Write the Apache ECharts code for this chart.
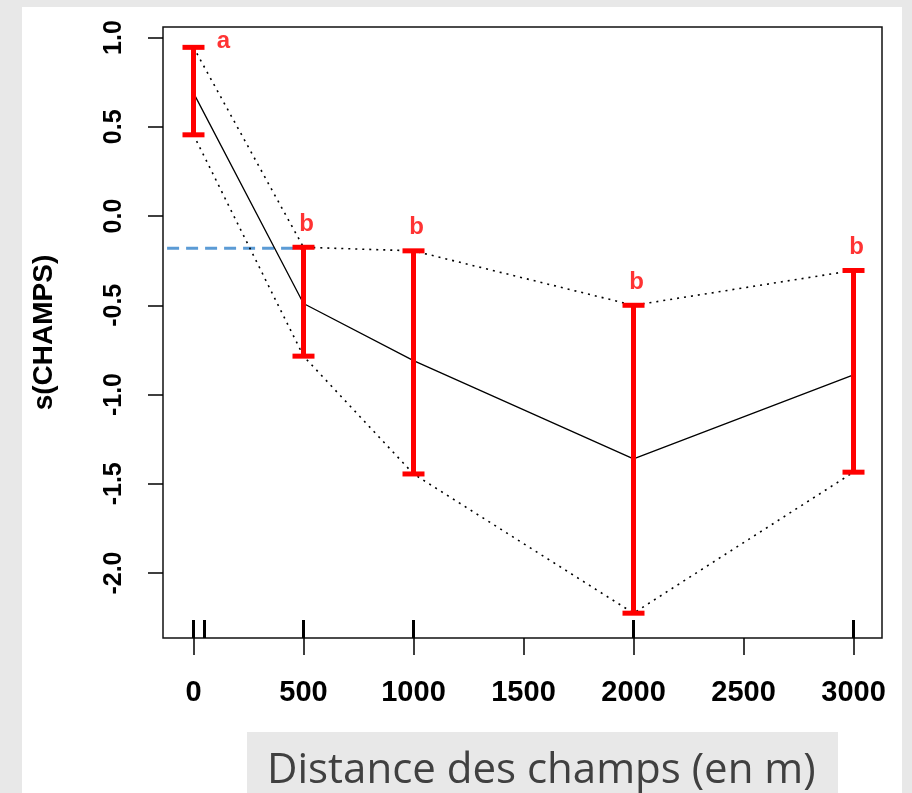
<!DOCTYPE html>
<html><head><meta charset="utf-8">
<script src="https://cdn.jsdelivr.net/npm/echarts@6/dist/echarts.min.js"></script>
<style>html,body{margin:0;padding:0;background:#e8e8e8;} #c{width:912px;height:793px;}</style>
</head><body><div id="c"></div>
<script>
// ---- data ----
const distances = [0, 500, 1000, 2000, 3000];
const fitted    = [0.69, -0.49, -0.81, -1.36, -0.89];
const upper     = [0.945, -0.175, -0.195, -0.50, -0.305];
const lower     = [0.455, -0.785, -1.445, -2.225, -1.435];
const letters   = ['a', 'b', 'b', 'b', 'b'];
const rugX      = [0, 50, 500, 1000, 2000, 3000];
const refLine   = [[-120, -0.18], [500, -0.18]];
const xTicks    = [0, 500, 1000, 1500, 2000, 2500, 3000];
const yTicks    = [-2.0, -1.5, -1.0, -0.5, 0.0, 0.5, 1.0];
const yName     = 's(CHAMPS)';
const caption   = 'Distance des champs (en m)';

const X_MIN = -138.6, X_MAX = 3129.5, Y_MIN = -2.364, Y_MAX = 1.059;

const chart = echarts.init(document.getElementById('c'), null, {renderer: 'canvas'});
const pair = (a, b) => a.map((v, i) => [v, b[i]]);

const option = {
  backgroundColor: '#e8e8e8',
  animation: false,
  graphic: [
    {type: 'rect', z: -100, shape: {x: 22, y: 7, width: 880, height: 786}, style: {fill: '#ffffff'}},
    {type: 'rect', z: 100, shape: {x: 247, y: 732, width: 591, height: 61}, style: {fill: '#e8e8e8'}},
    {type: 'text', z: 101, left: 267, top: 750,
      style: {text: caption, fill: '#404040', font: '42px "Open Sans"'}}
  ],
  grid: {left: 163, top: 27, width: 719, height: 611, show: true,
    backgroundColor: 'rgba(0,0,0,0)', borderColor: '#111', borderWidth: 1.5},
  xAxis: {
    type: 'value', min: X_MIN, max: X_MAX,
    splitLine: {show: false}, axisLine: {show: false, onZero: false},
    axisTick: {show: true, customValues: xTicks, length: 17, lineStyle: {color: '#000', width: 1.5}},
    axisLabel: {customValues: xTicks, margin: 40, color: '#000',
      fontFamily: 'Liberation Sans', fontWeight: 'bold', fontSize: 29,
      formatter: v => String(v)}
  },
  yAxis: {
    type: 'value', min: Y_MIN, max: Y_MAX,
    name: yName, nameLocation: 'middle', nameRotate: 90, nameGap: 105,
    nameTextStyle: {color: '#000', fontFamily: 'Liberation Sans', fontWeight: 'bold', fontSize: 28},
    splitLine: {show: false}, axisLine: {show: false, onZero: false},
    axisTick: {show: true, customValues: yTicks, length: 15, lineStyle: {color: '#000', width: 1.5}},
    axisLabel: {customValues: yTicks, rotate: 90, margin: 36, color: '#000',
      fontFamily: 'Liberation Sans', fontWeight: 'bold', fontSize: 25,
      formatter: v => v.toFixed(1)}
  },
  series: [
    {type: 'line', data: refLine, symbol: 'none', z: 3,
      lineStyle: {color: '#5b9bd5', width: 3, type: [12, 7]}},
    {type: 'line', data: pair(distances, upper), symbol: 'none', z: 4,
      lineStyle: {color: '#000', width: 1.6, type: [2, 5]}},
    {type: 'line', data: pair(distances, lower), symbol: 'none', z: 4,
      lineStyle: {color: '#000', width: 1.6, type: [2, 5]}},
    {type: 'line', data: pair(distances, fitted), symbol: 'none', z: 4,
      lineStyle: {color: '#000', width: 1.3}},
    {type: 'custom', z: 5, data: distances.map((d, i) => [d, lower[i], upper[i]]),
      renderItem: (params, api) => {
        const x = api.value(0);
        const pLo = api.coord([x, api.value(1)]);
        const pHi = api.coord([x, api.value(2)]);
        const hw = 11;
        const style = {stroke: '#ff0000', lineWidth: 5};
        return {type: 'group', children: [
          {type: 'line', shape: {x1: pLo[0], y1: pLo[1], x2: pHi[0], y2: pHi[1]}, style},
          {type: 'line', shape: {x1: pLo[0] - hw, y1: pLo[1], x2: pLo[0] + hw, y2: pLo[1]}, style},
          {type: 'line', shape: {x1: pHi[0] - hw, y1: pHi[1], x2: pHi[0] + hw, y2: pHi[1]}, style}
        ]};
      }},
    {type: 'custom', z: 5, data: rugX.map(x => [x]),
      renderItem: (params, api) => {
        const p = api.coord([api.value(0), Y_MIN]);
        return {type: 'line', shape: {x1: p[0], y1: p[1], x2: p[0], y2: p[1] - 18},
          style: {stroke: '#000', lineWidth: 3}};
      }},
    {type: 'scatter', z: 6, symbolSize: 0, itemStyle: {color: '#ff0000'},
      data: distances.map((d, i) => ({
        value: [d, upper[i]],
        label: {show: true, position: 'inside', formatter: letters[i],
          offset: letters[i] === 'a' ? [30, -6] : [3, -23],
          color: '#ff0000', textBorderWidth: 0, textBorderColor: 'transparent',
          fontFamily: 'Liberation Sans', fontWeight: 'bold', fontSize: 24}
      }))}
  ]
};
chart.setOption(option);
</script>
</body></html>
